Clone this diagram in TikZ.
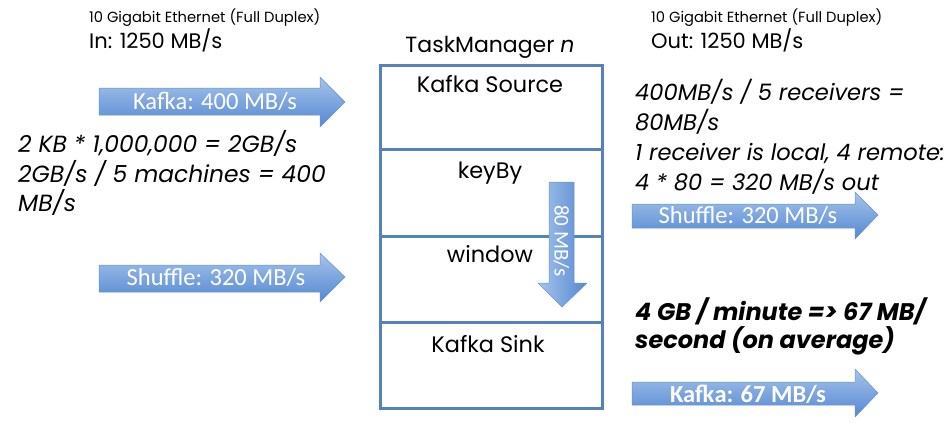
\documentclass[tikz,border=0pt]{standalone}
\usepackage{fontspec}
\setmainfont{Poppins}
\newfontfamily\calfont{Carlito}
\definecolor{boxblue}{HTML}{5582BE}
\definecolor{arrtop}{HTML}{A5C3EA}
\definecolor{arrbot}{HTML}{5488D2}
\definecolor{arredge}{HTML}{6A94CC}
\begin{document}
\begin{tikzpicture}[x=1pt,y=-1pt,
  blockarrow/.style={top color=arrtop,bottom color=arrbot,draw=arredge,line width=0.5pt},
  downarrow/.style={left color=arrtop,right color=arrbot,draw=arredge,line width=0.5pt},
  arrlabel/.style={text=white,font=\calfont\fontsize{24.5}{24.5}\selectfont,inner sep=0pt},
  small/.style={anchor=base west,inner sep=0pt,font=\fontsize{14.7}{14.7}\selectfont},
  medium/.style={anchor=base west,inner sep=0pt,font=\fontsize{21}{21}\selectfont},
  calc/.style={anchor=base west,inner sep=0pt,font=\itshape\fontsize{23.4}{23.4}\selectfont},
  rcalc/.style={anchor=base west,inner sep=0pt,font=\itshape\fontsize{22.6}{22.6}\selectfont},
  boldcalc/.style={anchor=base west,inner sep=0pt,font=\bfseries\itshape\fontsize{24}{24}\selectfont},
  stage/.style={anchor=base,inner sep=0pt,font=\fontsize{22.4}{22.4}\selectfont},
  tmline/.style={draw=boxblue,line width=3pt}]
\useasboundingbox (0,0) rectangle (950,423);
% headers
\node[small] (inhdr) at (89,22) {10 Gigabit Ethernet (Full Duplex)};
\node[medium] (inrate) at (89,48) {In: 1250 MB/s};
\node[small] (outhdr) at (651,22) {10 Gigabit Ethernet (Full Duplex)};
\node[medium] (outrate) at (651,48) {Out: 1250 MB/s};
% task manager box
\node[anchor=base,inner sep=0pt,font=\fontsize{22}{22}\selectfont] (tm) at (490,52) {TaskManager \textit{n}};
\draw[tmline] (380,65) rectangle (602,408);
\coordinate (d1l) at (380,149); \coordinate (d1r) at (602,149);
\coordinate (d2l) at (380,236); \coordinate (d2r) at (602,236);
\coordinate (d3l) at (380,322); \coordinate (d3r) at (602,322);
\draw[tmline] (d1l) -- (d1r);
\draw[tmline] (d2l) -- (d2r);
\draw[tmline] (d3l) -- (d3r);
\node[stage] (src) at (490,92) {Kafka Source};
\node[stage] (keyby) at (490,178) {keyBy};
\node[stage] (win) at (490,262) {window};
\node[stage] (sink) at (488,352) {Kafka Sink};
% down arrow
\path[downarrow] (549,182) -- (574,182) -- (574,283) -- (587,283) -- (562,307) -- (538,283) -- (549,283) -- cycle;
\node[arrlabel,rotate=-90,font=\calfont\fontsize{21}{21}\selectfont] (down) at (561.5,241) {80 MB/s};
% left arrows
\path[blockarrow] (99,88) -- (320,88) -- (320,77) -- (345,102) -- (320,127) -- (320,115) -- (99,115) -- cycle;
\node[arrlabel] (kin) at (215,101.5) {Kafka: 400 MB/s};
\path[blockarrow] (99,265) -- (320,265) -- (320,253) -- (345,277) -- (320,302) -- (320,292) -- (99,292) -- cycle;
\node[arrlabel] (shin) at (216,278) {Shuffle: 320 MB/s};
% right arrows
\path[blockarrow] (632,204) -- (855,204) -- (855,192) -- (878,215) -- (855,239) -- (855,228) -- (632,228) -- cycle;
\node[arrlabel] (shout) at (748,216) {Shuffle: 320 MB/s};
\path[blockarrow] (632,382) -- (855,382) -- (855,369) -- (878,393) -- (855,417) -- (855,405) -- (632,405) -- cycle;
\node[arrlabel,font=\calfont\bfseries\fontsize{24.5}{24.5}\selectfont] (kout) at (748,394) {Kafka: 67 MB/s};
% left calculations
\node[calc] (l1) at (18,152) {2 KB * 1,000,000 = 2GB/s};
\node[calc] (l2) at (18,182) {2GB/s / 5 machines = 400};
\node[calc] (l3) at (18,211) {MB/s};
% right calculations
\node[rcalc] (r1) at (635,100) {400MB/s / 5 receivers =};
\node[rcalc] (r2) at (635,130) {80MB/s};
\node[rcalc] (r3) at (635,160) {1 receiver is local, 4 remote:};
\node[rcalc] (r4) at (635,190) {4 * 80 = 320 MB/s out};
\node[boldcalc] (b1) at (635,320) {4 GB / minute => 67 MB/};
\node[boldcalc] (b2) at (635,348) {second (on average)};
\end{tikzpicture}
\end{document}
